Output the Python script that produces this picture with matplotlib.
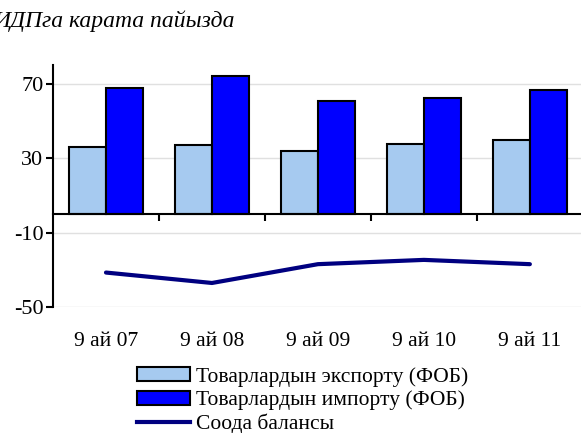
import numpy as np
import matplotlib.pyplot as plt
from matplotlib.patches import Patch
from matplotlib.lines import Line2D

plt.rcParams['font.family'] = ['Liberation Serif', 'DejaVu Serif']
plt.rcParams['axes.unicode_minus'] = False

categories = ['9 ай 07', '9 ай 08', '9 ай 09', '9 ай 10', '9 ай 11']
export_fob = [35.9, 36.8, 33.6, 37.7, 39.7]
import_fob = [67.4, 73.9, 60.6, 62.4, 66.7]
trade_balance = [-31.5, -37.1, -27.0, -24.7, -27.0]

title = 'ИДПга карата пайызда'
series_names = ['Товарлардын экспорту (ФОБ)', 'Товарлардын импорту (ФОБ)', 'Соода балансы']

c_exp = '#A6CAF0'
c_imp = '#0000FF'
c_bal = '#000080'

fig = plt.figure(figsize=(5.81, 4.33), dpi=100)
ax = fig.add_axes([0.0912, 0.291, 0.912, 0.559])

x = np.arange(len(categories))
w = 0.35
ax.bar(x - w/2, export_fob, w, color=c_exp, edgecolor='black', linewidth=1.5, zorder=3)
ax.bar(x + w/2, import_fob, w, color=c_imp, edgecolor='black', linewidth=1.5, zorder=3)
ax.plot(x, trade_balance, color=c_bal, linewidth=3, solid_capstyle='round', zorder=4)

ax.set_xlim(-0.5, 4.5)
ax.set_ylim(-50, 80)
ax.set_yticks([-50, -10, 30, 70])
ax.yaxis.grid(True, color='#e0e0e0', linewidth=1, zorder=0)
ax.tick_params(axis='y', direction='out', length=5, width=1.5, labelsize=16, pad=2)

ax.spines['top'].set_visible(False)
ax.spines['right'].set_visible(False)
ax.spines['left'].set_linewidth(1.5)
ax.spines['bottom'].set_position(('data', 0))
ax.spines['bottom'].set_linewidth(1.5)
ax.spines['bottom'].set_zorder(5)
ax.set_xticks([0.5, 1.5, 2.5, 3.5])
ax.set_xticklabels([])
ax.tick_params(axis='x', direction='out', length=5, width=1.5)

for i, lab in enumerate(categories):
    ax.annotate(lab, xy=(i, 0), xycoords=('data', 'axes fraction'),
                xytext=(0, -25), textcoords='offset points',
                ha='center', va='center', fontsize=15.5)

fig.text(-0.012, 0.952, title, fontsize=17, style='italic', ha='left', va='center')

handles = [
    Patch(facecolor=c_exp, edgecolor='black', linewidth=1.5),
    Patch(facecolor=c_imp, edgecolor='black', linewidth=1.5),
    Line2D([0], [0], color=c_bal, linewidth=3),
]
fig.legend(handles, series_names, loc='upper left', bbox_to_anchor=(0.235, 0.152),
           frameon=False, fontsize=15.5, handlelength=2.5, handleheight=0.6,
           handletextpad=0.25, labelspacing=0.17, borderpad=0, borderaxespad=0)

fig.savefig('out.png', dpi=100)
